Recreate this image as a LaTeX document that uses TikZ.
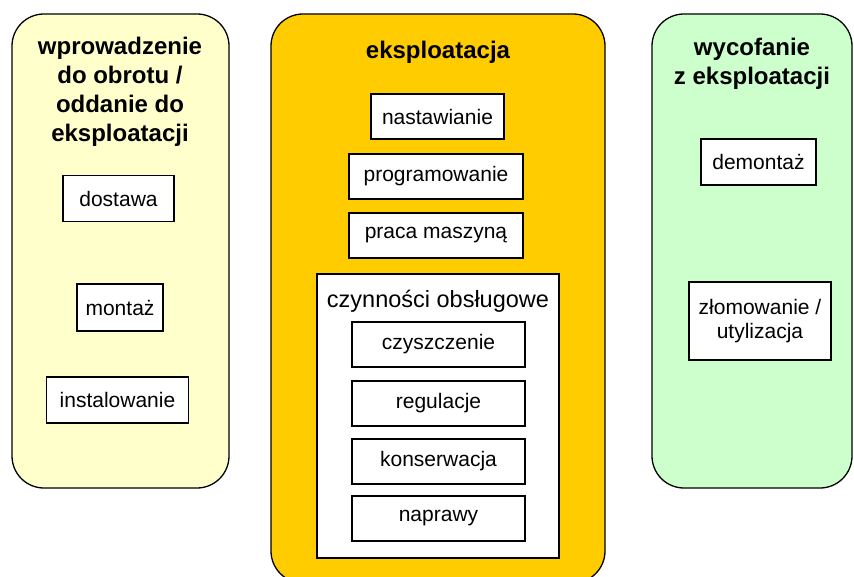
\documentclass[tikz,border=0pt]{standalone}
\usepackage{fontspec}
\setmainfont{Liberation Sans}
\usepackage{tikz}

\begin{document}
\begin{tikzpicture}[x=1pt, y=-1pt]
  % -----------------------------
  % STYLES
  % -----------------------------
  \tikzset{
    phase/.style={draw=black, line width=1.3pt, rounded corners=32pt},
    ttl/.style={font=\bfseries\fontsize{24}{29}\selectfont, align=center, inner sep=0pt},
    act/.style={draw=black, fill=white, line width=1.2pt, inner sep=0pt,
                minimum height=45pt, font=\fontsize{21}{24}\selectfont, align=center},
    grp/.style={draw=black, fill=white, line width=1.2pt},
  }
  \definecolor{cIntro}{HTML}{FFFFCC}
  \definecolor{cUse}{HTML}{FFCC00}
  \definecolor{cOut}{HTML}{CCFFCC}

  \clip (0,0) rectangle (854,577);

  % -----------------------------
  % PHASE PANELS
  % -----------------------------
  \draw[phase, fill=cIntro] (12,14) rectangle (229,488);
  \draw[phase, fill=cUse]   (271,14) rectangle (605,583);
  \draw[phase, fill=cOut]   (652,14) rectangle (852,488);

  % titles
  \node[ttl] (tIntro) at (120,92) {wprowadzenie\\do obrotu /\\oddanie do\\eksploatacji};
  \node[ttl] (tUse)   at (438,52) {eksploatacja};
  \node[ttl] (tOut)   at (752,64) {wycofanie\\z eksploatacji};

  % -----------------------------
  % LEFT: INTRODUCTION
  % -----------------------------
  \node[act, minimum width=111pt, minimum height=46pt] (dostawa) at (118.5,198.5) {dostawa};
  \node[act, minimum width=86pt,  minimum height=47pt] (montaz)  at (120,307.5) {monta\.z};
  \node[act, minimum width=142pt, minimum height=46pt] (instal)  at (117.5,400) {instalowanie};

  % -----------------------------
  % MIDDLE: OPERATION
  % -----------------------------
  \node[act, minimum width=133pt] (nastaw) at (437.5,116.5) {nastawianie};
  \node[act, minimum width=174pt] (progr)  at (436,176.5)   {programowanie};
  \node[act, minimum width=174pt] (praca)  at (436,235.5)   {praca maszyną};

  % maintenance group
  \draw[grp] (317,274) rectangle (559,558);
  \node[font=\fontsize{23.5}{27}\selectfont, inner sep=0pt] (obsl) at (438,301) {czynności obsługowe};
  \node[act, minimum width=173pt] (czysz) at (438.5,344.5) {czyszczenie};
  \node[act, minimum width=173pt] (regul) at (438.5,403.5) {regulacje};
  \node[act, minimum width=173pt] (konse) at (438.5,461.5) {konserwacja};
  \node[act, minimum width=173pt] (napra) at (438.5,518.5) {naprawy};

  % -----------------------------
  % RIGHT: WITHDRAWAL
  % -----------------------------
  \node[act, minimum width=115pt, minimum height=46pt] (demont) at (758.5,162) {demonta\.z};
  \node[act, minimum width=142pt, minimum height=78pt] (zlom)   at (760,321) {złomowanie /\\utylizacja};
\end{tikzpicture}
\end{document}
